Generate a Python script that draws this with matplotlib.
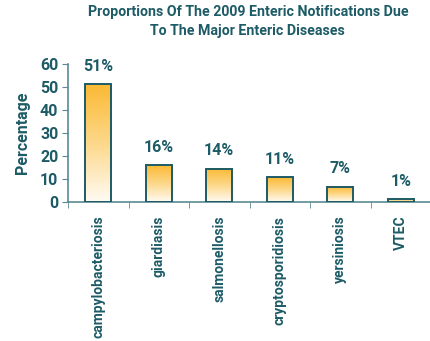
import numpy as np
import matplotlib
matplotlib.use("Agg")
import matplotlib.pyplot as plt
from matplotlib.colors import LinearSegmentedColormap
from matplotlib.patches import Rectangle

# data
diseases = ["campylobacteriosis", "giardiasis", "salmonellosis",
            "cryptosporidiosis", "yersiniosis", "VTEC"]
values = [51.2, 16.1, 14.4, 10.8, 6.6, 1.2]
labels = ["51%", "16%", "14%", "11%", "7%", "1%"]
yticks = [0, 10, 20, 30, 40, 50, 60]

teal = "#1d5b66"
axis_col = "#5b8a92"
plt.rcParams['font.family'] = ['Roboto', 'DejaVu Sans']
plt.rcParams['font.weight'] = 'bold'

fig = plt.figure(figsize=(4.31, 3.41), dpi=100)
ax = fig.add_axes([0.158, 0.408, 0.842, 0.404])

cmap = LinearSegmentedColormap.from_list("grad", ["#fffbf3", "#fdd88a", "#fbb934"])
grad = np.linspace(0, 1, 256).reshape(-1, 1)
x = np.arange(len(diseases))
w = 0.43
for xi, v, lab in zip(x, values, labels):
    ax.imshow(grad, cmap=cmap, origin="lower", aspect="auto",
              extent=(xi - w/2, xi + w/2, 0, v), zorder=2)
    ax.add_patch(Rectangle((xi - w/2, 0), w, v, fill=False,
                           edgecolor=teal, lw=1.4, zorder=3))
    ax.text(xi, v + 4.5, lab, ha="center", va="bottom", color=teal,
            fontsize=11.5, fontweight="bold")

ax.set_xlim(-0.5, len(diseases) - 0.5)
ax.set_ylim(0, 60)
ax.set_yticks(yticks)
ax.set_yticklabels([str(t) for t in yticks], fontsize=11.5, color=teal)
ax.set_xticks(x)
ax.set_xticklabels(diseases, rotation=90, fontsize=10, color=teal, va="top")
ax.set_xticks(np.arange(len(diseases) + 1) - 0.5, minor=True)
ax.tick_params(axis="x", which="major", length=0, pad=10)
ax.tick_params(axis="x", which="minor", length=4, color=axis_col, direction="out")
ax.tick_params(axis="y", length=4, color=axis_col, direction="out", pad=3)
ax.set_ylabel("Percentage", fontsize=11.5, color=teal, labelpad=7,
              fontweight="bold")

for s in ["top", "right"]:
    ax.spines[s].set_visible(False)
for s in ["left", "bottom"]:
    ax.spines[s].set_color(axis_col)
    ax.spines[s].set_linewidth(1.2)

fig.suptitle("Proportions Of The 2009 Enteric Notifications Due\nTo The Major Enteric Diseases",
             x=0.575, y=0.985, fontsize=10.2, color=teal, fontweight="bold",
             linespacing=1.45)

fig.savefig("out.png", dpi=100)
